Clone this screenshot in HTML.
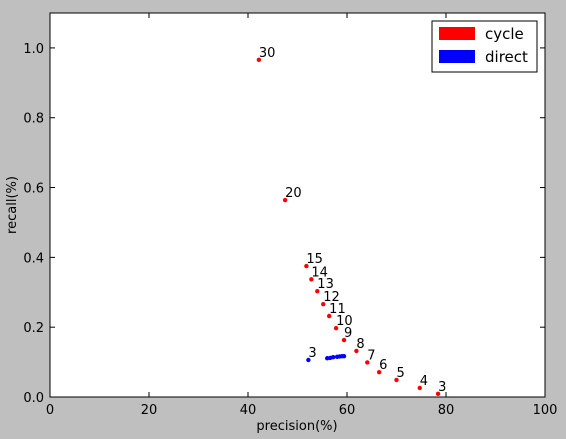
<!DOCTYPE html>
<html><head><meta charset="utf-8"><style>
html,body{margin:0;padding:0;background:#bfbfbf;}
svg{display:block;font-family:"DejaVu Sans","Liberation Sans",sans-serif;}
</style></head><body>
<svg id="chart" width="566" height="439">
<rect x="50" y="13" width="495" height="384" fill="#fff" stroke="#000" stroke-width="1"/>
<g id="axes"></g>
<g id="marks"></g>
<text x="297" y="430" font-size="13" text-anchor="middle">precision(%)</text>
<text x="16" y="205" font-size="13" text-anchor="middle" transform="rotate(-90 16 205)">recall(%)</text>
<g>
<rect x="432" y="21" width="105" height="51" fill="#fff" stroke="#000"/>
<rect x="439" y="27" width="36" height="13" fill="#ff0000"/>
<text x="485" y="39" font-size="15">cycle</text>
<rect x="439" y="50" width="36" height="13" fill="#0000ff"/>
<text x="485" y="62" font-size="15">direct</text>
</g>
</svg>
<script>
const xTicks=[0,20,40,60,80,100];
const yTicks=[0.0,0.2,0.4,0.6,0.8,1.0];
const cycleLabels=[30,20,15,14,13,12,11,10,9,8,7,6,5,4,3];
const cyclePrecision=[42.2,47.5,51.8,52.8,54.0,55.2,56.4,57.8,59.4,61.9,64.1,66.5,70.0,74.7,78.4];
const cycleRecall=[0.966,0.564,0.375,0.337,0.303,0.266,0.232,0.197,0.163,0.132,0.099,0.071,0.049,0.026,0.009];
const directLabels=["3","","","","","","",""];
const directPrecision=[52.2,56.0,56.6,57.2,58.0,58.5,59.0,59.4];
const directRecall=[0.106,0.111,0.112,0.114,0.115,0.116,0.117,0.117];
const NS="http://www.w3.org/2000/svg";
const X0=50,X1=545,Y0=397,Y1=13;
function sx(v){return X0+(v-0)/(100-0)*(X1-X0);}
function sy(v){return Y0-(v-0)/(1.1-0)*(Y0-Y1);}
function mk(t,a,p){const e=document.createElementNS(NS,t);for(const k in a)e.setAttribute(k,a[k]);p.appendChild(e);return e;}
const axes=document.getElementById('axes'),marks=document.getElementById('marks');
xTicks.forEach(v=>{
 const x=sx(v);
 const t1=mk('line',{x1:x,x2:x,y1:Y0,y2:Y0-5,stroke:'#000'},axes);
 
 
 mk('line',{x1:x,x2:x,y1:Y1,y2:Y1+5,stroke:'#000'},axes);
 const l=mk('text',{x:x,y:Y0+17,'font-size':13,'text-anchor':'middle'},axes);
 l.textContent=v;
 
 
});
yTicks.forEach(v=>{
 const y=sy(v);
 const t1=mk('line',{x1:X0,x2:X0+5,y1:y,y2:y,stroke:'#000'},axes);
 
 
 mk('line',{x1:X1,x2:X1-5,y1:y,y2:y,stroke:'#000'},axes);
 const l=mk('text',{x:X0-6,y:y+5,'font-size':13,'text-anchor':'end'},axes);
 l.textContent=v.toFixed(1);
 
 
});
function series(P,R,L,col,name){
 P.forEach((p,i)=>{
  const c=mk('circle',{cx:sx(p),cy:sy(R[i]),r:2.2,fill:col},marks);
  
  
  if(L[i]!==""){
   const t=mk('text',{x:sx(p),y:sy(R[i])-3,'font-size':13},marks);
   t.textContent=L[i];
   
   
  }
 });
}
series(cyclePrecision,cycleRecall,cycleLabels,'#ff0000','cycle');
series(directPrecision,directRecall,directLabels,'#0000ff','direct');
</script>
</body></html>
